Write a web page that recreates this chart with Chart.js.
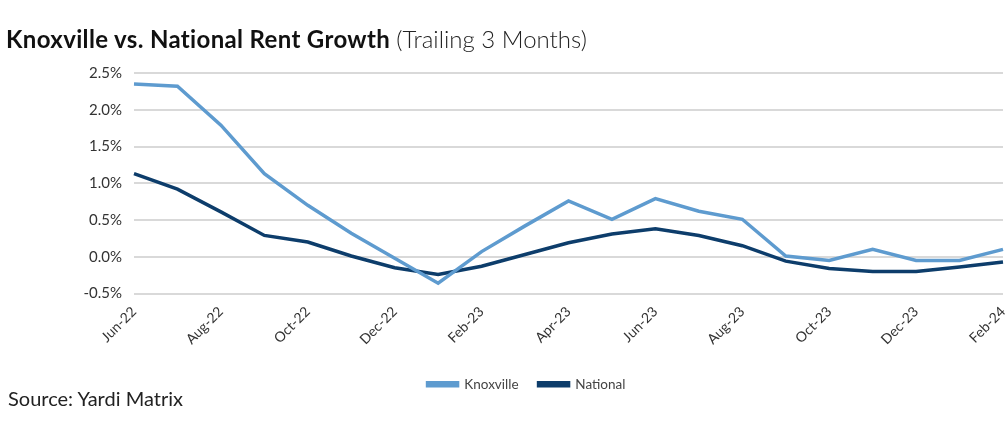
<!DOCTYPE html>
<html>
<head>
<meta charset="utf-8">
<script src="https://cdn.jsdelivr.net/npm/chart.js@4"></script>
<style>
  html, body { margin: 0; padding: 0; background: #fff; }
  #wrap { position: relative; width: 1007px; height: 433px; overflow: hidden; }
  #title { position: absolute; left: 6px; top: 24px; font-family: Lato, sans-serif; font-size: 24px; color: #111; white-space: nowrap; }
  #title b { font-weight: 700; letter-spacing: 0.35px; }
  #title span { font-weight: 300; color: #222; }
  #source { position: absolute; left: 8px; top: 386px; font-family: Lato, sans-serif; font-size: 20px; color: #222; white-space: nowrap; }
  canvas { position: absolute; left: 0; top: 0; }
</style>
</head>
<body>
<div id="wrap">
  <canvas id="c" width="1007" height="433"></canvas>
  <div id="title"><b>Knoxville vs. National Rent Growth</b> <span>(Trailing 3 Months)</span></div>
  <div id="source">Source: Yardi Matrix</div>
</div>
<script>
const months = ["Jun-22","Jul-22","Aug-22","Sep-22","Oct-22","Nov-22","Dec-22","Jan-23","Feb-23","Mar-23","Apr-23","May-23","Jun-23","Jul-23","Aug-23","Sep-23","Oct-23","Nov-23","Dec-23","Jan-24","Feb-24"];
const knoxville = [2.35, 2.32, 1.79, 1.13, 0.70, 0.32, -0.02, -0.36, 0.07, 0.42, 0.76, 0.51, 0.79, 0.62, 0.51, 0.01, -0.05, 0.10, -0.05, -0.05, 0.10];
const national = [1.13, 0.92, 0.61, 0.29, 0.20, 0.01, -0.15, -0.24, -0.13, 0.03, 0.19, 0.31, 0.38, 0.29, 0.15, -0.06, -0.16, -0.20, -0.20, -0.14, -0.07];
const yTicks = [-0.5, 0.0, 0.5, 1.0, 1.5, 2.0, 2.5];

Chart.defaults.font.family = "Lato, sans-serif";
Chart.defaults.color = "#333";

const shiftLegend = {
  id: "shiftLegend",
  afterLayout(chart) {
    if (chart.legend) { chart.legend.left += 25; chart.legend.right += 25; }
  }
};

new Chart(document.getElementById("c"), {
  type: "line",
  data: {
    labels: months,
    datasets: [
      { label: "Knoxville", data: knoxville, borderColor: "#5e9bcf", backgroundColor: "#5e9bcf", borderWidth: 3.5, pointRadius: 0, tension: 0 },
      { label: "National", data: national, borderColor: "#0d3d6b", backgroundColor: "#0d3d6b", borderWidth: 3.5, pointRadius: 0, tension: 0 }
    ]
  },
  plugins: [shiftLegend],
  options: {
    responsive: false,
    animation: false,
    layout: { padding: { top: 73, right: 4, bottom: 32, left: 0 } },
    plugins: {
      title: { display: false },
      tooltip: { enabled: false },
      legend: {
        position: "bottom",
        labels: { boxWidth: 30, boxHeight: 3, padding: 20, font: { size: 13.5 }, color: "#444" }
      }
    },
    scales: {
      x: {
        grid: { display: false },
        border: { display: false },
        ticks: {
          autoSkip: false, minRotation: 45, maxRotation: 45, padding: 2,
          font: { size: 14 }, color: "#333",
          callback: function(v, i) { return i % 2 === 0 ? months[i] : ""; }
        },
        afterFit: function(s) { s.height = 64; s.paddingRight = 0; s.paddingLeft = 0; }
      },
      y: {
        min: -0.5, max: 2.5,
        afterBuildTicks: function(s) { s.ticks = yTicks.map(v => ({ value: v })); },
        grid: { color: "#d9d9d9", lineWidth: 2, drawTicks: false },
        border: { display: false },
        ticks: {
          padding: 12, font: { size: 15 }, color: "#333",
          callback: function(v) { return v.toFixed(1) + "%"; }
        },
        afterFit: function(s) { s.width = 134; }
      }
    }
  }
});
</script>
</body>
</html>
